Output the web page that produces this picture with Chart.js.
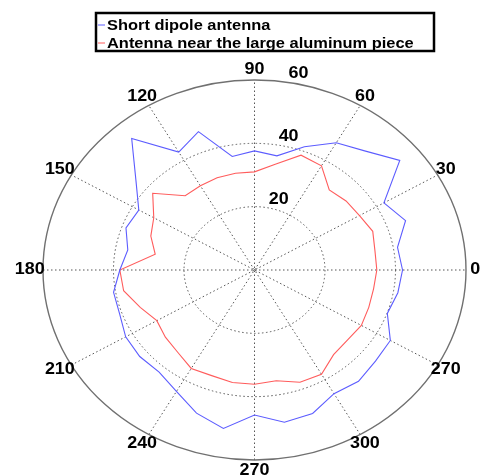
<!DOCTYPE html>
<html><head><meta charset="utf-8">
<script src="https://cdn.jsdelivr.net/npm/chart.js@4/dist/chart.umd.min.js"></script>
<style>html,body{margin:0;padding:0;background:#fff;}#wrap{width:481px;height:475px;position:relative;}</style>
</head><body><div id="wrap"><canvas id="c" width="481" height="475"></canvas></div>
<script>
// ---- data ----
const angles = [0,10,20,30,40,50,60,70,80,90,100,110,120,130,140,150,160,170,180,190,200,210,220,230,240,250,260,270,280,290,300,310,320,330,340,350];
const shortDipole = [42.0,41.2,45.6,42.4,53.8,49.0,46.4,41.4,36.6,37.6,36.4,46.5,43.0,54.2,43.9,37.9,38.8,36.5,38.2,40.6,40.7,42.2,42.5,42.1,44.3,48.1,50.8,45.8,48.8,48.2,45.1,45.9,44.8,44.5,40.1,41.3];
const nearAluminum = [34.7,34.7,35.7,34.4,33.9,33.0,38.0,38.6,33.9,31.0,31.0,31.0,30.7,30.6,37.7,33.0,31.3,28.6,38.2,37.7,34.5,32.0,33.0,33.9,35.9,35.5,36.1,36.1,35.5,37.7,38.0,34.9,34.4,35.0,34.5,34.3];
const seriesNames = ['Short dipole antenna','Antenna near the large aluminum piece'];
const seriesColors = ['#5c5cff','#ff5c5c'];
const ringValues = [20,40,60];
const ringLabels = ['20','40','60'];
const spokeAngles = [0,30,60,90,120,150];
const angleLabelDirs = [0,30,60,90,120,150,180,210,240,270,300,330];
const angleLabels = ['0','30','60','90','120','150','180','210','240','270','300','270'];

const rMax = Math.max(...ringValues);
const rad = a => a*Math.PI/180;
function toXY(rs){
  const pts = angles.map((a,i)=>({x: rs[i]*Math.cos(rad(a)), y: rs[i]*Math.sin(rad(a))}));
  pts.push(pts[0]);
  return pts;
}
function stretchedText(ctx, t, x, y, s){
  ctx.save(); ctx.translate(x,y); ctx.scale(s,1); ctx.fillText(t,0,0); ctx.restore();
}

const polarGrid = {
  id:'polarGrid',
  beforeDatasetsDraw(chart){
    const {ctx, scales:{x,y}} = chart;
    const cx = x.getPixelForValue(0), cy = y.getPixelForValue(0);
    const P = (r,a)=>[x.getPixelForValue(r*Math.cos(rad(a))), y.getPixelForValue(r*Math.sin(rad(a)))];
    ctx.save();
    ctx.lineCap = 'butt';
    // spokes
    ctx.strokeStyle = '#555'; ctx.lineWidth = 1; ctx.setLineDash([1.5,2.5]);
    spokeAngles.forEach(a=>{
      const p1 = P(-rMax,a), p2 = P(rMax,a);
      ctx.beginPath(); ctx.moveTo(p1[0],p1[1]); ctx.lineTo(p2[0],p2[1]); ctx.stroke();
    });
    // rings
    ringValues.forEach(r=>{
      const rx = x.getPixelForValue(r)-cx, ry = cy - y.getPixelForValue(r);
      if (r===rMax){ ctx.setLineDash([]); ctx.strokeStyle='#707070'; ctx.lineWidth=1.4; }
      else { ctx.setLineDash([1.5,2.5]); ctx.strokeStyle='#555'; ctx.lineWidth=1; }
      ctx.beginPath(); ctx.ellipse(cx,cy,rx,ry,0,0,2*Math.PI); ctx.stroke();
    });
    // angle labels
    ctx.fillStyle = '#000';
    ctx.font = 'bold 16px "Liberation Sans", Arial, sans-serif';
    ctx.textAlign = 'center'; ctx.textBaseline = 'middle';
    angleLabelDirs.forEach((a,i)=>{
      const p = P(63.2,a);
      stretchedText(ctx, angleLabels[i], p[0] - 2*Math.abs(Math.cos(rad(a))), p[1], 1.12);
    });
    // ring labels (MATLAB style, along 82 deg)
    ringValues.forEach((r,i)=>{
      const p = P(r+1,82);
      stretchedText(ctx, ringLabels[i], p[0]+14, p[1]-5, 1.12);
    });
    ctx.restore();
  },
  afterDraw(chart){
    const ctx = chart.ctx;
    ctx.save();
    const left = 96, top = 13, right = 434, bottom = 51;
    ctx.strokeStyle = '#000'; ctx.lineWidth = 2.5; ctx.setLineDash([]);
    ctx.strokeRect(left, top, right-left, bottom-top);
    ctx.font = 'bold 15px "Liberation Sans", Arial, sans-serif';
    ctx.textAlign = 'left'; ctx.textBaseline = 'middle';
    const rows = [25, 43];
    seriesNames.forEach((n,i)=>{
      ctx.strokeStyle = seriesColors[i]; ctx.lineWidth = 1;
      ctx.beginPath(); ctx.moveTo(left+2, rows[i]); ctx.lineTo(105, rows[i]); ctx.stroke();
      ctx.fillStyle = '#000';
      stretchedText(ctx, n, 107, rows[i]+1, 1.095);
    });
    ctx.restore();
  }
};

new Chart(document.getElementById('c'), {
  type: 'scatter',
  data: {
    datasets: [
      {label: seriesNames[0], data: toXY(shortDipole), showLine: true, borderColor: seriesColors[0], borderWidth: 1.1, pointRadius: 0, fill: false, tension: 0},
      {label: seriesNames[1], data: toXY(nearAluminum), showLine: true, borderColor: seriesColors[1], borderWidth: 1.1, pointRadius: 0, fill: false, tension: 0}
    ]
  },
  options: {
    responsive: false, animation: false, devicePixelRatio: 1,
    layout: {padding: {left: 43, right: 15, top: 80, bottom: 15}},
    scales: {
      x: {type:'linear', min:-rMax, max:rMax, display:false},
      y: {type:'linear', min:-rMax, max:rMax, display:false}
    },
    plugins: {legend:{display:false}, tooltip:{enabled:false}}
  },
  plugins: [polarGrid]
});
</script>
</body></html>
